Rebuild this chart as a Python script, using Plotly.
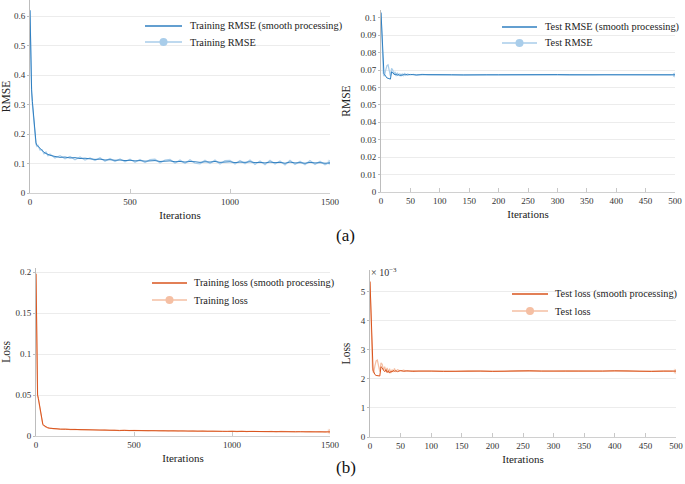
import plotly.graph_objects as go

# Iteration indices (x values)
train_iter = [0, 2, 5, 8, 12, 16, 20, 25, 30, 35, 40, 50, 60, 70, 80, 90, 100] + list(range(125, 1501, 25))
test_iter = [0, 1, 2, 3, 4, 5, 6, 8, 10, 12, 14, 16, 18, 20, 22, 24, 26, 28, 30, 32,
             34, 36, 38, 40, 42, 45, 50, 55, 60, 70, 80, 90, 100] + list(range(120, 501, 20))

# Training RMSE
train_rmse_smooth = [0.62, 0.52, 0.42, 0.35, 0.31, 0.28, 0.25, 0.21, 0.17, 0.162, 0.158, 0.150, 0.143, 0.138, 0.134, 0.131, 0.128,
                     0.124, 0.121, 0.122, 0.119, 0.120, 0.117, 0.118, 0.115, 0.114, 0.115,
                     0.112, 0.113, 0.111, 0.112, 0.110, 0.111, 0.109, 0.110, 0.108, 0.109,
                     0.110, 0.107, 0.108, 0.109, 0.106, 0.107, 0.105, 0.107, 0.106, 0.104,
                     0.106, 0.105, 0.107, 0.104, 0.105, 0.106, 0.103, 0.105, 0.104, 0.106,
                     0.103, 0.104, 0.102, 0.105, 0.103, 0.104, 0.101, 0.105, 0.102, 0.103,
                     0.101, 0.104, 0.102, 0.103, 0.101, 0.102]
train_rmse_raw = [0.62, 0.50, 0.40, 0.34, 0.30, 0.27, 0.24, 0.20, 0.165, 0.158, 0.162, 0.146, 0.147, 0.133, 0.139, 0.126, 0.132,
                  0.119, 0.127, 0.116, 0.124, 0.113, 0.122, 0.112, 0.119, 0.110, 0.120,
                  0.108, 0.117, 0.107, 0.116, 0.106, 0.115, 0.104, 0.114, 0.103, 0.113,
                  0.115, 0.102, 0.112, 0.114, 0.101, 0.112, 0.100, 0.113, 0.101, 0.099,
                  0.111, 0.100, 0.112, 0.098, 0.110, 0.111, 0.098, 0.110, 0.099, 0.112,
                  0.097, 0.109, 0.096, 0.111, 0.098, 0.109, 0.095, 0.111, 0.097, 0.108,
                  0.096, 0.110, 0.097, 0.108, 0.096, 0.104]

# Test RMSE
test_rmse_smooth = [0.103, 0.095, 0.085, 0.075, 0.070, 0.068, 0.0675, 0.066, 0.0655, 0.0653,
                    0.0650, 0.0648, 0.0690, 0.0685, 0.0680, 0.0672, 0.0678, 0.0670, 0.0675, 0.0668,
                    0.0672, 0.0670, 0.0675, 0.0673, 0.0676, 0.0672, 0.0675, 0.0673, 0.0672, 0.0674,
                    0.0673, 0.0674, 0.0675,
                    0.0673, 0.0672, 0.0674, 0.0673, 0.0673, 0.0674, 0.0673, 0.0672, 0.0673, 0.0674,
                    0.0673, 0.0673, 0.0672, 0.0673, 0.0674, 0.0673, 0.0673, 0.0672, 0.0673, 0.0673]
test_rmse_raw = [0.103, 0.092, 0.080, 0.072, 0.068, 0.0665, 0.067, 0.070, 0.0725, 0.0730,
                 0.0690, 0.0665, 0.0710, 0.0700, 0.0675, 0.0690, 0.0665, 0.0685, 0.0668, 0.0680,
                 0.0665, 0.0678, 0.0668, 0.0680, 0.0670, 0.0678, 0.0672, 0.0676, 0.0671, 0.0675,
                 0.0672, 0.0675, 0.0674,
                 0.0673, 0.0674, 0.0672, 0.0674, 0.0673, 0.0673, 0.0672, 0.0674, 0.0673, 0.0673,
                 0.0674, 0.0672, 0.0673, 0.0674, 0.0673, 0.0672, 0.0673, 0.0674, 0.0673, 0.0672]

# Training loss
train_loss_smooth = [0.198, 0.14, 0.075, 0.05, 0.046, 0.040, 0.034, 0.025, 0.018, 0.014, 0.013, 0.011, 0.010, 0.0095, 0.0092, 0.0090, 0.0088,
                     0.0084, 0.0082, 0.0080, 0.0079, 0.0077, 0.0076, 0.0075, 0.0073, 0.0072, 0.0071,
                     0.0070, 0.0069, 0.0068, 0.0068, 0.0067, 0.0066, 0.0066, 0.0065, 0.0064, 0.0064,
                     0.0063, 0.0063, 0.0062, 0.0062, 0.0061, 0.0061, 0.0060, 0.0060, 0.0059, 0.0059,
                     0.0058, 0.0058, 0.0058, 0.0057, 0.0057, 0.0056, 0.0056, 0.0056, 0.0055, 0.0055,
                     0.0055, 0.0054, 0.0054, 0.0054, 0.0053, 0.0053, 0.0053, 0.0052, 0.0052, 0.0052,
                     0.0051, 0.0051, 0.0051, 0.0050, 0.0050, 0.0050]
train_loss_raw = [0.198, 0.13, 0.07, 0.05, 0.045, 0.039, 0.033, 0.024, 0.017, 0.0135, 0.0128, 0.0108, 0.0102, 0.0093, 0.0094, 0.0087, 0.0090,
                  0.0082, 0.0086, 0.0078, 0.0082, 0.0075, 0.0079, 0.0073, 0.0076, 0.0070, 0.0074,
                  0.0068, 0.0072, 0.0066, 0.0071, 0.0065, 0.0069, 0.0064, 0.0068, 0.0062, 0.0067,
                  0.0061, 0.0066, 0.0060, 0.0065, 0.0059, 0.0064, 0.0058, 0.0063, 0.0057, 0.0062,
                  0.0056, 0.0061, 0.0056, 0.0060, 0.0055, 0.0059, 0.0054, 0.0059, 0.0053, 0.0058,
                  0.0053, 0.0057, 0.0052, 0.0057, 0.0051, 0.0056, 0.0051, 0.0055, 0.0050, 0.0055,
                  0.0049, 0.0054, 0.0049, 0.0054, 0.0048, 0.0056]

# Test loss, in units of 1e-3
test_loss_smooth_e3 = [5.35, 4.6, 3.8, 3.0, 2.5, 2.3, 2.25, 2.15, 2.12, 2.12,
                       2.10, 2.10, 2.42, 2.38, 2.30, 2.25, 2.32, 2.22, 2.28, 2.20,
                       2.26, 2.24, 2.29, 2.26, 2.28, 2.25, 2.29, 2.26, 2.28, 2.26,
                       2.27, 2.28, 2.27,
                       2.26, 2.27, 2.28, 2.27, 2.26, 2.27, 2.27, 2.28, 2.27, 2.26,
                       2.27, 2.27, 2.26, 2.27, 2.28, 2.27, 2.27, 2.26, 2.27, 2.27]
test_loss_raw_e3 = [5.35, 4.4, 3.6, 2.8, 2.4, 2.25, 2.2, 2.45, 2.62, 2.65,
                    2.40, 2.25, 2.55, 2.50, 2.30, 2.42, 2.25, 2.38, 2.22, 2.35,
                    2.20, 2.32, 2.24, 2.36, 2.26, 2.32, 2.27, 2.30, 2.26, 2.29,
                    2.27, 2.28, 2.27,
                    2.27, 2.26, 2.28, 2.27, 2.27, 2.26, 2.28, 2.27, 2.26, 2.27,
                    2.28, 2.27, 2.26, 2.27, 2.27, 2.28, 2.26, 2.27, 2.27, 2.26]

FONT = "Liberation Serif"
BLUE, LIGHT_BLUE = "#2f7fc1", "#a9cdea"
ORANGE, LIGHT_ORANGE = "#d9541e", "#f5bfa3"
W, H = 685, 484

fig = go.Figure()

# x, raw, smooth, name, colour, light colour, axis suffix, legend spot (line x0, x1, text x, row1 y, row2 y)
panels = [
    (train_iter, train_rmse_raw, train_rmse_smooth, "Training RMSE", BLUE, LIGHT_BLUE, "", (145, 182, 188, 26, 42)),
    (test_iter, test_rmse_raw, test_rmse_smooth, "Test RMSE", BLUE, LIGHT_BLUE, "2", (502, 537, 543, 27, 43)),
    (train_iter, train_loss_raw, train_loss_smooth, "Training loss", ORANGE, LIGHT_ORANGE, "3", (152, 187, 192, 283, 300)),
    (test_iter, test_loss_raw_e3, test_loss_smooth_e3, "Test loss", ORANGE, LIGHT_ORANGE, "4", (512, 548, 553, 294, 311)),
]

shapes, annotations = [], []
for x, raw, smooth, name, col, light, ax, (lx0, lx1, tx, r1, r2) in panels:
    sizes = [0] * (len(x) - 1) + [6]
    fig.add_trace(go.Scatter(x=x, y=raw, mode="lines+markers", line=dict(color=light, width=1.2),
                             marker=dict(size=sizes, color=light), name=name, showlegend=False,
                             xaxis="x" + ax, yaxis="y" + ax))
    fig.add_trace(go.Scatter(x=x, y=smooth, mode="lines", line=dict(color=col, width=1),
                             name=name + " (smooth processing)", showlegend=False,
                             xaxis="x" + ax, yaxis="y" + ax))
    # hand-drawn legend (line samples are longer than plotly's own)
    shapes.append(dict(type="line", xref="paper", yref="paper", x0=lx0 / W, x1=lx1 / W,
                       y0=1 - r1 / H, y1=1 - r1 / H, line=dict(color=col, width=1.6)))
    shapes.append(dict(type="line", xref="paper", yref="paper", x0=lx0 / W, x1=lx1 / W,
                       y0=1 - r2 / H, y1=1 - r2 / H, line=dict(color=light, width=1.6)))
    cx = (lx0 + lx1) / 2
    shapes.append(dict(type="circle", xref="paper", yref="paper", x0=(cx - 4) / W, x1=(cx + 4) / W,
                       y0=1 - (r2 + 4) / H, y1=1 - (r2 - 4) / H, fillcolor=light, line=dict(width=0)))
    for label, ry in [(name + " (smooth processing)", r1), (name, r2)]:
        annotations.append(dict(text=label, x=tx / W, y=1 - ry / H, xref="paper", yref="paper",
                                xanchor="left", yanchor="middle", showarrow=False,
                                font=dict(family=FONT, size=10.3, color="#222")))

def px(a, b):
    return [a / W, b / W]
def py(top, bottom):
    return [1 - bottom / H, 1 - top / H]

xax = dict(showgrid=False, showline=True, linecolor="#d0d0d0", linewidth=1, ticks="inside",
           ticklen=4, tickcolor="#c8c8c8", zeroline=False, automargin=False, ticklabeloverflow="allow",
           tickfont=dict(family=FONT, size=9, color="#333"),
           title=dict(text="Iterations", font=dict(family=FONT, size=11, color="#222"), standoff=5))
yax = dict(showgrid=True, gridcolor="#ececec", showline=True, linecolor="#bdbdbd", linewidth=1,
           ticks="outside", ticklen=2, tickcolor="#bdbdbd", zeroline=False, automargin=False,
           tickfont=dict(family=FONT, size=9, color="#333"))
ytitle = lambda t: dict(text=t, font=dict(family=FONT, size=11.5, color="#222"), standoff=7)

annotations += [
    dict(text="× 10<sup>−3</sup>", x=369 / W, y=1 - 272 / H, xref="paper", yref="paper",
         xanchor="left", yanchor="middle", showarrow=False, font=dict(family=FONT, size=10, color="#333")),
    dict(text="(a)", x=345 / W, y=1 - 236 / H, xref="paper", yref="paper", xanchor="center", yanchor="middle",
         showarrow=False, font=dict(family=FONT, size=17, color="#111")),
    dict(text="(b)", x=346 / W, y=1 - 467 / H, xref="paper", yref="paper", xanchor="center", yanchor="middle",
         showarrow=False, font=dict(family=FONT, size=17, color="#111")),
]

fig.update_layout(
    width=W, height=H, margin=dict(l=0, r=0, t=0, b=0), template="none",
    plot_bgcolor="white", paper_bgcolor="white", showlegend=False,
    xaxis=dict(xax, domain=px(30, 330), range=[0, 1500], tickvals=[0, 500, 1000, 1500], anchor="y"),
    yaxis=dict(yax, domain=py(0, 193), range=[0, 0.655], tickvals=[0, 0.1, 0.2, 0.3, 0.4, 0.5, 0.6],
               anchor="x", title=ytitle("RMSE")),
    xaxis2=dict(xax, domain=px(381, 675), range=[0, 500], dtick=50, anchor="y2"),
    yaxis2=dict(yax, domain=py(10, 192), range=[0, 0.1045], dtick=0.01, tickformat=".2~f",
                anchor="x2", title=ytitle("RMSE")),
    xaxis3=dict(xax, domain=px(36, 330), range=[0, 1500], tickvals=[0, 500, 1000, 1500], anchor="y3"),
    yaxis3=dict(yax, domain=py(268, 436), range=[0, 0.205], tickvals=[0, 0.05, 0.1, 0.15, 0.2],
                anchor="x3", title=ytitle("Loss")),
    xaxis4=dict(xax, domain=px(370, 676), range=[0, 500], dtick=50, anchor="y4"),
    yaxis4=dict(yax, domain=py(270, 437), range=[0, 5.75], dtick=1,
                anchor="x4", title=ytitle("Loss")),
    shapes=shapes,
    annotations=annotations,
)

# drop the page's default 8px body margin so the figure sits at the window's corner
fig.write_html("out.html", config={"displayModeBar": False},
               post_script="document.body.style.margin='0';")
